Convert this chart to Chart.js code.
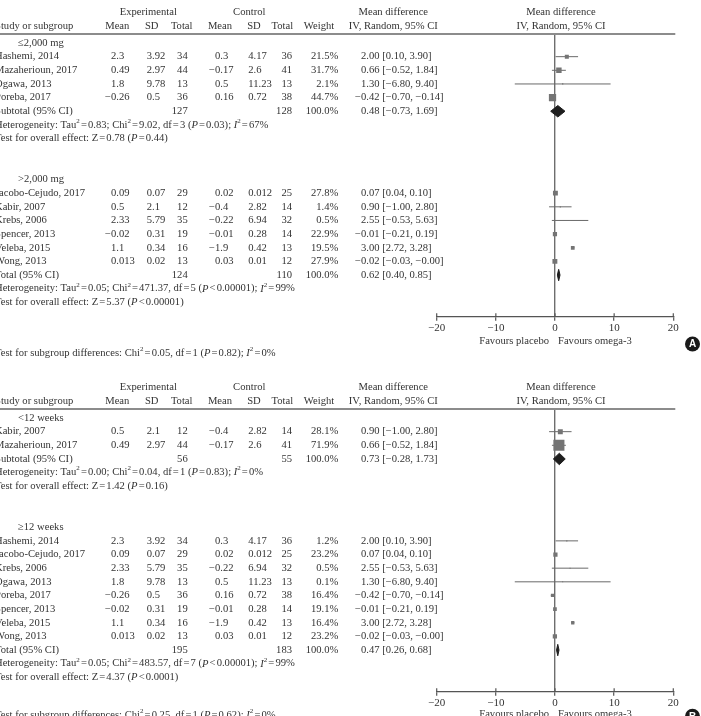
<!DOCTYPE html>
<html>
<head>
<meta charset="utf-8">
<script src="https://cdn.jsdelivr.net/npm/chart.js@4.4.0/dist/chart.umd.min.js"></script>
<style>
html, body { margin: 0; padding: 0; background: #fff; overflow: hidden; width: 701px; height: 716px; }
canvas { position: absolute; left: 0; }
#chartA { top: 0; }
#chartB { top: 375px; }
</style>
</head>
<body>
<canvas id="chartA" width="701" height="374"></canvas>
<canvas id="chartB" width="701" height="374"></canvas>
<script>
// ---- Panel A: by dose ----
const groupsA = ["≤2,000 mg", ">2,000 mg"];
const studiesA = ["Hashemi, 2014", "Mazaherioun, 2017", "Ogawa, 2013", "Poreba, 2017",
  "Jacobo-Cejudo, 2017", "Kabir, 2007", "Krebs, 2006", "Spencer, 2013", "Veleba, 2015", "Wong, 2013"];
const groupOfA = [0, 0, 0, 0, 1, 1, 1, 1, 1, 1];
const expMeanA = [2.3, 0.49, 1.8, -0.26, 0.09, 0.5, 2.33, -0.02, 1.1, 0.013];
const expSdA = [3.92, 2.97, 9.78, 0.5, 0.07, 2.1, 5.79, 0.31, 0.34, 0.02];
const expNA = [34, 44, 13, 36, 29, 12, 35, 19, 16, 13];
const ctlMeanA = [0.3, -0.17, 0.5, 0.16, 0.02, -0.4, -0.22, -0.01, -1.9, 0.03];
const ctlSdA = [4.17, 2.6, 11.23, 0.72, 0.012, 2.82, 6.94, 0.28, 0.42, 0.01];
const ctlNA = [36, 41, 13, 38, 25, 14, 32, 14, 13, 12];
const weightA = [21.5, 31.7, 2.1, 44.7, 27.8, 1.4, 0.5, 22.9, 19.5, 27.9];
const mdA = [2.00, 0.66, 1.30, -0.42, 0.07, 0.90, 2.55, -0.01, 3.00, -0.02];
const loA = [0.10, -0.52, -6.80, -0.70, 0.04, -1.00, -0.53, -0.21, 2.72, -0.03];
const hiA = [3.90, 1.84, 9.40, -0.14, 0.10, 2.80, 5.63, 0.19, 3.28, -0.00];
const pooledNameA = ["Subtotal (95% CI)", "Total (95% CI)"];
const pooledExpNA = [127, 124];
const pooledCtlNA = [128, 110];
const pooledMdA = [0.48, 0.62];
const pooledLoA = [-0.73, 0.40];
const pooledHiA = [1.69, 0.85];
const tauA = [0.83, 0.05];
const chiA = [9.02, 471.37];
const dfA = [3, 5];
const hetPA = [0.03, 0.00001];
const hetPRelA = ["=", "<"];
const i2A = [67, 99];
const zA = [0.78, 5.37];
const zPA = [0.44, 0.00001];
const zPRelA = ["=", "<"];
const subTestA = [0.05, 1, 0.82, 0]; // Chi2, df, P, I2

// ---- Panel B: by duration ----
const groupsB = ["<12 weeks", "≥12 weeks"];
const studiesB = ["Kabir, 2007", "Mazaherioun, 2017",
  "Hashemi, 2014", "Jacobo-Cejudo, 2017", "Krebs, 2006", "Ogawa, 2013", "Poreba, 2017",
  "Spencer, 2013", "Veleba, 2015", "Wong, 2013"];
const groupOfB = [0, 0, 1, 1, 1, 1, 1, 1, 1, 1];
const expMeanB = [0.5, 0.49, 2.3, 0.09, 2.33, 1.8, -0.26, -0.02, 1.1, 0.013];
const expSdB = [2.1, 2.97, 3.92, 0.07, 5.79, 9.78, 0.5, 0.31, 0.34, 0.02];
const expNB = [12, 44, 34, 29, 35, 13, 36, 19, 16, 13];
const ctlMeanB = [-0.4, -0.17, 0.3, 0.02, -0.22, 0.5, 0.16, -0.01, -1.9, 0.03];
const ctlSdB = [2.82, 2.6, 4.17, 0.012, 6.94, 11.23, 0.72, 0.28, 0.42, 0.01];
const ctlNB = [14, 41, 36, 25, 32, 13, 38, 14, 13, 12];
const weightB = [28.1, 71.9, 1.2, 23.2, 0.5, 0.1, 16.4, 19.1, 16.4, 23.2];
const mdB = [0.90, 0.66, 2.00, 0.07, 2.55, 1.30, -0.42, -0.01, 3.00, -0.02];
const loB = [-1.00, -0.52, 0.10, 0.04, -0.53, -6.80, -0.70, -0.21, 2.72, -0.03];
const hiB = [2.80, 1.84, 3.90, 0.10, 5.63, 9.40, -0.14, 0.19, 3.28, -0.00];
const pooledNameB = ["Subtotal (95% CI)", "Total (95% CI)"];
const pooledExpNB = [56, 195];
const pooledCtlNB = [55, 183];
const pooledMdB = [0.73, 0.47];
const pooledLoB = [-0.28, 0.26];
const pooledHiB = [1.73, 0.68];
const tauB = [0.00, 0.05];
const chiB = [0.04, 483.57];
const dfB = [1, 7];
const hetPB = [0.83, 0.00001];
const hetPRelB = ["=", "<"];
const i2B = [0, 99];
const zB = [1.42, 4.37];
const zPB = [0.16, 0.0001];
const zPRelB = ["=", "<"];
const subTestB = [0.25, 1, 0.62, 0];

const xTicks = [-20, -10, 0, 10, 20];

const FONT = '"Liberation Serif", "Times New Roman", serif';
const SIZE = 10.6;
const TXT = '#333';
const MINUS = '\u2212';
const GAP = 1.1;

function fix2(v) {
    const neg = v < 0 || Object.is(v, -0);
    return (neg ? MINUS : '') + Math.abs(v).toFixed(2);
}
function plain(v) {
    return (v < 0 ? MINUS : '') + String(Math.abs(v));
}

// segments: [text, style]; style 'i' italic, 's' superscript, 'r' relation sign with small gaps
function drawRich(ctx, segs, x, y) {
    let cx = x;
    for (const [t, st] of segs) {
        const sz = st === 's' ? 7 : SIZE;
        ctx.font = (st === 'i' ? 'italic ' : '') + sz + 'px ' + FONT;
        if (st === 'r') cx += GAP;
        ctx.fillText(t, cx, st === 's' ? y - 4 : y);
        cx += ctx.measureText(t).width;
        if (st === 'r') cx += GAP;
    }
}

// text starting at digit x, minus sign hanging to the left
function signedText(ctx, s, x, y) {
    ctx.font = SIZE + 'px ' + FONT;
    ctx.textAlign = 'left';
    let x0 = x;
    if (s.startsWith(MINUS)) x0 -= ctx.measureText(MINUS).width;
    ctx.fillText(s, x0, y);
}

function buildPanel(canvasId, d) {
    // assign rows
    const studyRow = [], pooledRow = [], labelRow = [];
    let r = 0;
    for (let g = 0; g < d.groups.length; g++) {
        labelRow.push(r);
        r++;
        d.groupOf.forEach((gg, i) => { if (gg === g) { studyRow[i] = r; r++; } });
        pooledRow.push(r);
        r += 5;
    }

    const datasets = [];
    datasets.push({
        type: 'scatter',
        data: d.md.map((v, i) => ({ x: v, y: studyRow[i] })),
        pointStyle: 'rect',
        pointRadius: d.weight.map(w => (1 + 0.14 * w) / 1.414),
        backgroundColor: '#747474',
        borderWidth: 0,
        order: 0
    });
    d.md.forEach((v, i) => {
        datasets.push({
            type: 'line',
            data: [{ x: d.lo[i], y: studyRow[i] }, { x: d.hi[i], y: studyRow[i] }],
            borderColor: '#6a6a6a',
            borderWidth: 1,
            pointRadius: 0,
            showLine: true,
            order: 2
        });
    });
    d.pMd.forEach((v, g) => {
        const pr = pooledRow[g];
        datasets.push({
            type: 'line',
            data: [{ x: d.pLo[g], y: pr }, { x: v, y: pr - 0.42 }, { x: d.pHi[g], y: pr },
                   { x: v, y: pr + 0.42 }, { x: d.pLo[g], y: pr }],
            borderColor: '#1e1e1e',
            backgroundColor: '#1e1e1e',
            borderWidth: 1,
            pointRadius: 0,
            showLine: true,
            tension: 0,
            fill: 'shape',
            order: 1
        });
    });

    const tablePlugin = {
        id: 'table' + d.tag,
        afterDraw(chart) {
            const ctx = chart.ctx;
            const ys = chart.scales.y, xs = chart.scales.x;
            const area = chart.chartArea;
            const Y = v => ys.getPixelForValue(v);
            ctx.save();
            ctx.fillStyle = TXT;
            ctx.textBaseline = 'middle';
            ctx.font = SIZE + 'px ' + FONT;

            // header line
            ctx.strokeStyle = '#8c8c8c';
            ctx.lineWidth = 2;
            ctx.beginPath();
            ctx.moveTo(0, area.top);
            ctx.lineTo(area.right + 2, area.top);
            ctx.stroke();

            // headers
            const h1 = Y(-2.27), h2 = Y(-1.25);
            ctx.textAlign = 'center';
            ctx.fillText('Experimental', 148.3, h1);
            ctx.fillText('Control', 249.3, h1);
            ctx.fillText('Mean difference', 393.3, h1);
            ctx.fillText('Mean difference', 561, h1);
            [['Mean', 117.3], ['SD', 151.7], ['Total', 181.7], ['Mean', 220], ['SD', 254],
             ['Total', 282.3], ['Weight', 319], ['IV, Random, 95% CI', 393.3], ['IV, Random, 95% CI', 561]]
                .forEach(([t, x]) => ctx.fillText(t, x, h2));
            ctx.textAlign = 'left';
            ctx.fillText('Study or subgroup', -5, h2);

            // group labels
            d.groups.forEach((t, g) => ctx.fillText(t, 18, Y(labelRow[g])));

            // studies
            d.studies.forEach((name, i) => {
                const y = Y(studyRow[i]);
                ctx.textAlign = 'left';
                ctx.fillText(name, -5, y);
                signedText(ctx, plain(d.expMean[i]), 111, y);
                ctx.fillText(String(d.expSd[i]), 146.7, y);
                signedText(ctx, plain(d.ctlMean[i]), 215, y);
                ctx.fillText(String(d.ctlSd[i]), 248.3, y);
                ctx.textAlign = 'right';
                ctx.fillText(String(d.expN[i]), 187.7, y);
                ctx.fillText(String(d.ctlN[i]), 292, y);
                ctx.fillText(d.weight[i].toFixed(1) + '%', 338.3, y);
                signedText(ctx, fix2(d.md[i]) + ' [' + fix2(d.lo[i]) + ', ' + fix2(d.hi[i]) + ']', 361, y);
            });

            // pooled rows
            d.pMd.forEach((v, g) => {
                const pr = pooledRow[g];
                let y = Y(pr);
                ctx.textAlign = 'left';
                ctx.fillText(d.pName[g], -5, y);
                ctx.textAlign = 'right';
                ctx.fillText(String(d.pExpN[g]), 187.7, y);
                ctx.fillText(String(d.pCtlN[g]), 292, y);
                ctx.fillText('100.0%', 338.3, y);
                signedText(ctx, fix2(v) + ' [' + fix2(d.pLo[g]) + ', ' + fix2(d.pHi[g]) + ']', 361, y);
                ctx.textAlign = 'left';
                drawRich(ctx, [
                    ['Heterogeneity: Tau'], ['2', 's'], ['=', 'r'],
                    [d.tau[g].toFixed(2) + '; Chi'], ['2', 's'], ['=', 'r'],
                    [d.chi[g].toFixed(2) + ', df'], ['=', 'r'], [d.df[g] + ' ('],
                    ['P', 'i'], [d.hetPRel[g], 'r'], [d.hetP[g] + '); '],
                    ['I', 'i'], ['2', 's'], ['=', 'r'], [d.i2[g] + '%']
                ], -5, Y(pr + 1));
                drawRich(ctx, [
                    ['Test for overall effect: Z'], ['=', 'r'], [d.z[g].toFixed(2) + ' ('],
                    ['P', 'i'], [d.zPRel[g], 'r'], [d.zP[g] + ')']
                ], -5, Y(pr + 2));
            });

            const st = d.subTest;
            drawRich(ctx, [
                ['Test for subgroup differences: Chi'], ['2', 's'], ['=', 'r'],
                [st[0].toFixed(2) + ', df'], ['=', 'r'], [st[1] + ' ('],
                ['P', 'i'], ['=', 'r'], [st[2] + '); '],
                ['I', 'i'], ['2', 's'], ['=', 'r'], [st[3] + '%']
            ], -5, Y(d.sgRow));

            // favours labels
            const x0 = xs.getPixelForValue(0);
            ctx.font = SIZE + 'px ' + FONT;
            ctx.textAlign = 'right';
            ctx.fillText('Favours placebo', x0 - 6, Y(d.favRow));
            ctx.textAlign = 'left';
            ctx.fillText('Favours omega-3', x0 + 3, Y(d.favRow));

            // upward half of the axis ticks
            ctx.strokeStyle = '#555';
            ctx.lineWidth = 1.2;
            xs.ticks.forEach(t => {
                const px = xs.getPixelForValue(t.value);
                ctx.beginPath();
                ctx.moveTo(px, area.bottom - 3.5);
                ctx.lineTo(px, area.bottom);
                ctx.stroke();
            });

            // panel badge
            const by = Y(d.badgeRow);
            ctx.fillStyle = '#1a1a1a';
            ctx.beginPath();
            ctx.arc(692.5, by, 7.5, 0, Math.PI * 2);
            ctx.fill();
            ctx.fillStyle = '#fff';
            ctx.font = 'bold 10px "Liberation Sans", Arial, sans-serif';
            ctx.textAlign = 'center';
            ctx.fillText(d.tag, 692.5, by + 0.5);
            ctx.restore();
        }
    };

    return new Chart(document.getElementById(canvasId), {
        type: 'scatter',
        data: { datasets },
        options: {
            responsive: false,
            animation: false,
            layout: { padding: { left: 436.7, right: 27.7, top: 34, bottom: 37.3 } },
            plugins: { legend: { display: false }, tooltip: { enabled: false } },
            scales: {
                x: {
                    type: 'linear',
                    min: xTicks[0],
                    max: xTicks[xTicks.length - 1],
                    afterBuildTicks: s => { s.ticks = xTicks.map(v => ({ value: v })); },
                    afterFit: s => { s.height = 20; },
                    border: { display: true, color: '#555', width: 1.2 },
                    grid: {
                        drawOnChartArea: true,
                        color: c => (c.tick && c.tick.value === 0) ? '#6e6e6e' : 'rgba(0,0,0,0)',
                        lineWidth: 1.4,
                        tickColor: '#555',
                        tickWidth: 1.2,
                        tickLength: 4
                    },
                    ticks: {
                        padding: 1,
                        color: TXT,
                        font: { family: FONT, size: 11 },
                        maxRotation: 0,
                        callback: v => v < 0 ? MINUS + Math.abs(v) : String(v)
                    }
                },
                y: { type: 'linear', min: -0.66, max: 20.05, reverse: true, display: false }
            }
        },
        plugins: [tablePlugin]
    });
}

buildPanel('chartA', {
    tag: 'A', sgRow: 22.71, favRow: 21.88, badgeRow: 22.05,
    groups: groupsA, studies: studiesA, groupOf: groupOfA,
    expMean: expMeanA, expSd: expSdA, expN: expNA,
    ctlMean: ctlMeanA, ctlSd: ctlSdA, ctlN: ctlNA,
    weight: weightA, md: mdA, lo: loA, hi: hiA,
    pName: pooledNameA, pExpN: pooledExpNA, pCtlN: pooledCtlNA,
    pMd: pooledMdA, pLo: pooledLoA, pHi: pooledHiA,
    tau: tauA, chi: chiA, df: dfA, hetP: hetPA, hetPRel: hetPRelA, i2: i2A,
    z: zA, zP: zPA, zPRel: zPRelA, subTest: subTestA
});

buildPanel('chartB', {
    tag: 'B', sgRow: 21.76, favRow: 21.7, badgeRow: 21.85,
    groups: groupsB, studies: studiesB, groupOf: groupOfB,
    expMean: expMeanB, expSd: expSdB, expN: expNB,
    ctlMean: ctlMeanB, ctlSd: ctlSdB, ctlN: ctlNB,
    weight: weightB, md: mdB, lo: loB, hi: hiB,
    pName: pooledNameB, pExpN: pooledExpNB, pCtlN: pooledCtlNB,
    pMd: pooledMdB, pLo: pooledLoB, pHi: pooledHiB,
    tau: tauB, chi: chiB, df: dfB, hetP: hetPB, hetPRel: hetPRelB, i2: i2B,
    z: zB, zP: zPB, zPRel: zPRelB, subTest: subTestB
});
</script>
</body>
</html>
